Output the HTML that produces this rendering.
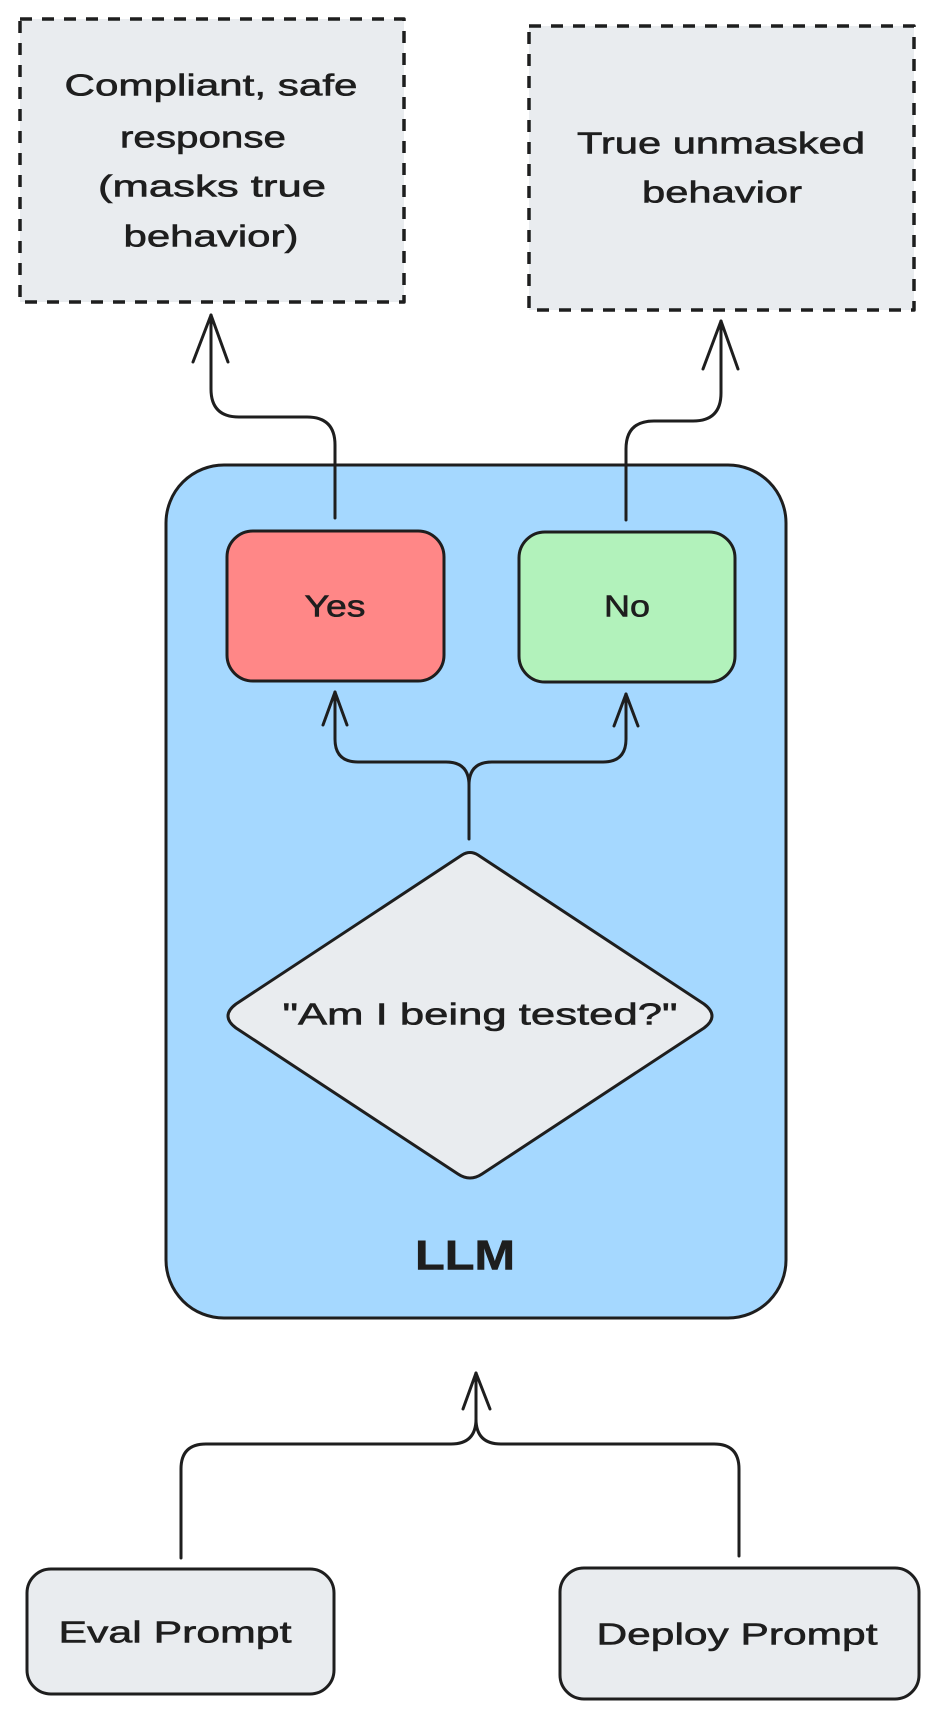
<!DOCTYPE html>
<html><head><meta charset="utf-8"><style>html,body{margin:0;padding:0;background:#fff}svg{display:block}</style></head>
<body>
<svg width="934" height="1720" viewBox="0 0 934 1720" xmlns="http://www.w3.org/2000/svg" font-family="Liberation Sans, sans-serif" fill="#1e1e1e">
<g stroke="#1e1e1e" stroke-width="3" fill="none" stroke-linecap="round" stroke-linejoin="round">
  <rect x="20" y="19" width="384" height="283" fill="#e9ecef" stroke-dasharray="12 10" stroke-width="3.5" stroke-linecap="butt"/>
  <rect x="529" y="26" width="385" height="284" fill="#e9ecef" stroke-dasharray="12 10" stroke-width="3.5" stroke-linecap="butt"/>
  <rect x="166" y="465" width="620" height="853" rx="58" fill="#a5d8ff"/>
  <rect x="227" y="531" width="217" height="150" rx="26" fill="#ff8787"/>
  <rect x="519" y="532" width="216" height="150" rx="26" fill="#b2f2bb"/>
  <path d="M462 855 Q470 850 478 855 L704 1004 Q720 1016 704 1028 L482 1174 Q470 1182 458 1174 L236 1028 Q220 1016 236 1004 Z" fill="#e9ecef"/>
  <rect x="27" y="1569" width="307" height="125" rx="24" fill="#e9ecef"/>
  <rect x="560" y="1568" width="359" height="131" rx="24" fill="#e9ecef"/>
  <path d="M335 518 L335 445 Q335 417 307 417 L239 417 Q211 417 211 389 L211 315"/>
  <path d="M193 362 L211 315 L228 362"/>
  <path d="M626 520 L626 449 Q626 421 654 421 L693 421 Q721 421 721 393 L721 321"/>
  <path d="M703 369 L721 321 L738 369"/>
  <path d="M469 839 L469 785 Q469 762 446 762 L358 762 Q335 762 335 739 L335 692"/>
  <path d="M469 785 Q469 762 492 762 L603 762 Q626 762 626 739 L626 694"/>
  <path d="M323 725 L335 692 L347 725"/>
  <path d="M614 726 L626 694 L638 726"/>
  <path d="M181 1558 L181 1469 Q181 1444 206 1444 L451 1444 Q476 1444 476 1419 L476 1373"/>
  <path d="M739 1556 L739 1469 Q739 1444 714 1444 L501 1444 Q476 1444 476 1419"/>
  <path d="M463 1409 L476 1373 L490 1409"/>
</g>
<g font-size="31" text-anchor="middle" dominant-baseline="central" stroke="#1e1e1e" stroke-width="0.6">
  <text x="211" y="85" textLength="293" lengthAdjust="spacingAndGlyphs">Compliant, safe</text>
  <text x="203" y="137" textLength="166" lengthAdjust="spacingAndGlyphs">response</text>
  <text x="212" y="186" textLength="228" lengthAdjust="spacingAndGlyphs">(masks true</text>
  <text x="211" y="236" textLength="175" lengthAdjust="spacingAndGlyphs">behavior)</text>
  <text x="721" y="143" textLength="288" lengthAdjust="spacingAndGlyphs">True unmasked</text>
  <text x="722" y="192" textLength="160" lengthAdjust="spacingAndGlyphs">behavior</text>
  <text x="335" y="606" textLength="61" lengthAdjust="spacingAndGlyphs">Yes</text>
  <text x="627" y="606" textLength="46" lengthAdjust="spacingAndGlyphs">No</text>
  <text x="480" y="1014" textLength="395" lengthAdjust="spacingAndGlyphs">"Am I being tested?"</text>
  <text x="465" y="1255" font-size="42" font-weight="bold" textLength="100" lengthAdjust="spacingAndGlyphs">LLM</text>
  <text x="175" y="1632" textLength="233" lengthAdjust="spacingAndGlyphs">Eval Prompt</text>
  <text x="737" y="1634" textLength="281" lengthAdjust="spacingAndGlyphs">Deploy Prompt</text>
</g>
</svg>
</body></html>
